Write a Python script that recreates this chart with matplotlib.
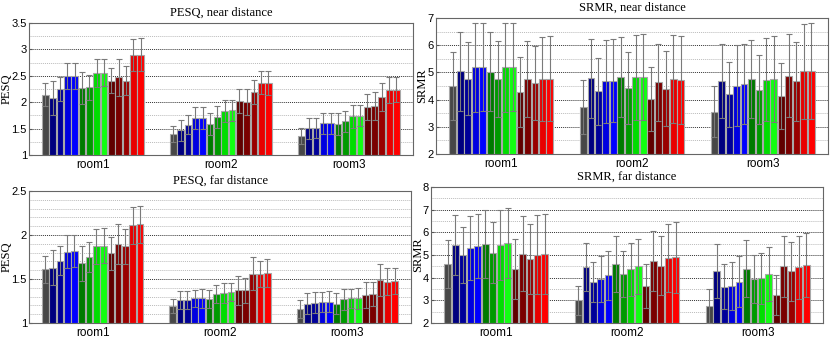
import numpy as np
import matplotlib
matplotlib.use("Agg")
import matplotlib.pyplot as plt
from matplotlib.ticker import MultipleLocator, FormatStrFormatter

rooms = ["room1", "room2", "room3"]
bar_colors = ["#474747", "#00007f", "#000099", "#0000e0", "#0000ff",
              "#007a00", "#009a00", "#00dd00", "#11ff11",
              "#600000", "#7a0000", "#990000", "#e80000", "#ff0000"]

# PESQ, near distance: bar values and top of error bar
pesq_near_val = [
    [2.14, 2.08, 2.25, 2.50, 2.50, 2.27, 2.28, 2.55, 2.56, 2.41, 2.47, 2.41, 2.89, 2.90],
    [1.40, 1.47, 1.57, 1.70, 1.70, 1.59, 1.72, 1.84, 1.85, 2.02, 2.00, 2.20, 2.37, 2.37],
    [1.36, 1.51, 1.52, 1.60, 1.60, 1.58, 1.64, 1.73, 1.74, 1.91, 1.93, 2.10, 2.23, 2.24]]
pesq_near_top = [
    [2.36, 2.40, 2.47, 2.75, 2.75, 2.58, 2.51, 2.81, 2.82, 2.65, 2.82, 2.68, 3.19, 3.21],
    [1.55, 1.67, 1.75, 1.90, 1.90, 1.80, 1.92, 2.05, 2.05, 2.25, 2.25, 2.43, 2.59, 2.60],
    [1.52, 1.71, 1.71, 1.80, 1.80, 1.79, 1.84, 1.94, 1.94, 2.15, 2.19, 2.37, 2.47, 2.47]]

# SRMR, near distance
srmr_near_val = [
    [4.49, 5.04, 4.77, 5.19, 5.20, 5.03, 4.77, 5.19, 5.20, 4.29, 4.77, 4.60, 4.77, 4.77],
    [3.73, 4.79, 4.30, 4.67, 4.70, 4.82, 4.43, 4.82, 4.83, 4.02, 4.63, 4.40, 4.76, 4.73],
    [3.56, 4.68, 4.19, 4.51, 4.57, 4.76, 4.37, 4.73, 4.76, 4.14, 4.88, 4.67, 5.04, 5.04]]
srmr_near_top = [
    [5.74, 6.49, 6.12, 6.82, 6.82, 6.49, 6.17, 6.82, 6.82, 5.57, 6.17, 5.96, 6.31, 6.34],
    [4.73, 6.24, 5.54, 6.19, 6.23, 6.29, 5.74, 6.39, 6.41, 5.20, 6.04, 5.77, 6.39, 6.34],
    [4.49, 6.04, 5.38, 6.00, 6.04, 6.19, 5.64, 6.26, 6.34, 5.36, 6.41, 6.12, 6.78, 6.80]]

# PESQ, far distance
pesq_far_val = [
    [1.61, 1.63, 1.71, 1.81, 1.82, 1.68, 1.75, 1.87, 1.88, 1.79, 1.90, 1.87, 2.11, 2.12],
    [1.19, 1.26, 1.26, 1.28, 1.28, 1.27, 1.33, 1.34, 1.35, 1.37, 1.37, 1.56, 1.56, 1.57],
    [1.16, 1.22, 1.23, 1.24, 1.24, 1.22, 1.27, 1.28, 1.28, 1.32, 1.33, 1.49, 1.47, 1.48]]
pesq_far_top = [
    [1.76, 1.83, 1.87, 2.00, 2.00, 1.88, 1.92, 2.07, 2.08, 1.98, 2.13, 2.07, 2.32, 2.33],
    [1.27, 1.36, 1.36, 1.38, 1.39, 1.37, 1.43, 1.45, 1.45, 1.53, 1.51, 1.75, 1.71, 1.73],
    [1.26, 1.34, 1.35, 1.35, 1.36, 1.34, 1.39, 1.39, 1.40, 1.47, 1.47, 1.67, 1.62, 1.63]]

# SRMR, far distance
srmr_far_val = [
    [4.60, 5.43, 5.00, 5.30, 5.40, 5.48, 5.10, 5.45, 5.52, 4.37, 5.06, 4.82, 5.02, 5.05],
    [3.00, 4.47, 3.80, 3.93, 4.10, 4.60, 4.17, 4.37, 4.50, 3.65, 4.72, 4.53, 4.86, 4.90],
    [2.73, 4.30, 3.60, 3.62, 3.83, 4.40, 3.93, 3.98, 4.15, 3.23, 4.50, 4.28, 4.45, 4.55]]
srmr_far_top = [
    [5.67, 6.76, 6.22, 6.70, 6.83, 6.97, 6.45, 7.00, 7.07, 5.70, 6.70, 6.38, 6.78, 6.80],
    [3.65, 5.53, 4.68, 4.95, 5.17, 5.83, 5.18, 5.53, 5.70, 4.62, 6.05, 5.83, 6.35, 6.47],
    [3.48, 5.48, 4.60, 4.68, 4.95, 5.65, 4.98, 5.10, 5.35, 4.10, 5.85, 5.57, 5.86, 5.97]]

panels = [
    dict(title="PESQ, near distance", ylabel="PESQ", val=pesq_near_val, top=pesq_near_top,
         ylim=(1, 3.5), major=0.5, minor=0.25, pos=[0.0349, 0.552, 0.462, 0.3815],
         labx=-0.043),
    dict(title="SRMR, near distance", ylabel="SRMR", val=srmr_near_val, top=srmr_near_top,
         ylim=(2, 7), major=1, minor=0.5, pos=[0.5247, 0.555, 0.4717, 0.393],
         labx=-0.020),
    dict(title="PESQ, far distance", ylabel="PESQ", val=pesq_far_val, top=pesq_far_top,
         ylim=(1, 2.5), major=0.5, minor=0.1, pos=[0.0349, 0.0665, 0.4597, 0.3815],
         labx=-0.043),
    dict(title="SRMR, far distance", ylabel="SRMR", val=srmr_far_val, top=srmr_far_top,
         ylim=(2, 8), major=1, minor=0.5, pos=[0.5187, 0.0665, 0.4717, 0.393],
         labx=-0.018),
]

serif = ["Liberation Serif", "DejaVu Serif"]
sans = ["Liberation Sans", "DejaVu Sans"]

fig = plt.figure(figsize=(8.31, 3.46), dpi=100)
nb = len(bar_colors)
slot = 0.8 / nb
x = np.arange(1, len(rooms) + 1)

for p in panels:
    ax = fig.add_axes(p["pos"])
    val = np.array(p["val"])
    top = np.array(p["top"])
    err = top - val
    y0 = p["ylim"][0]
    for i in range(nb):
        xs = x + (i - (nb - 1) / 2) * slot
        ax.bar(xs, val[:, i] - y0, bottom=y0, width=slot * 0.92,
               color=bar_colors[i], edgecolor="#a8a8a8", linewidth=0.8, zorder=3)
        ax.errorbar(xs, val[:, i], yerr=err[:, i], fmt="none", ecolor="#7a7a7a",
                    elinewidth=0.8, capsize=2.0, capthick=0.8, zorder=4)
    ax.set_xlim(0.5, 3.5)
    ax.set_ylim(*p["ylim"])
    ax.yaxis.set_major_locator(MultipleLocator(p["major"]))
    ax.yaxis.set_minor_locator(MultipleLocator(p["minor"]))
    ax.yaxis.set_major_formatter(FormatStrFormatter("%g"))
    ax.set_xticks(x)
    ax.set_xticklabels(rooms, fontfamily=sans, fontsize=8.5)
    for lab in ax.get_yticklabels():
        lab.set_fontfamily(sans)
        lab.set_fontsize(8)
    ax.tick_params(axis="both", which="both", direction="in", length=2.5, pad=1.5,
                   color="#555555")
    ax.tick_params(axis="y", which="minor", length=0)
    ax.tick_params(axis="x", length=0, pad=3)
    ax.grid(True, which="major", axis="y", linestyle=(0, (1, 1)), color="#333333",
            linewidth=0.7, zorder=0)
    ax.grid(True, which="minor", axis="y", linestyle=(0, (1, 1)), color="#bbbbbb",
            linewidth=0.7, zorder=0)
    for s in ax.spines.values():
        s.set_color("#666666")
        s.set_linewidth(0.8)
    ax.set_title(p["title"], fontfamily=serif, fontsize=9, pad=5)
    ax.set_ylabel(p["ylabel"], fontfamily=serif, fontsize=9)
    ax.yaxis.set_label_coords(p["labx"], 0.5)

fig.savefig("out.png", dpi=100)
